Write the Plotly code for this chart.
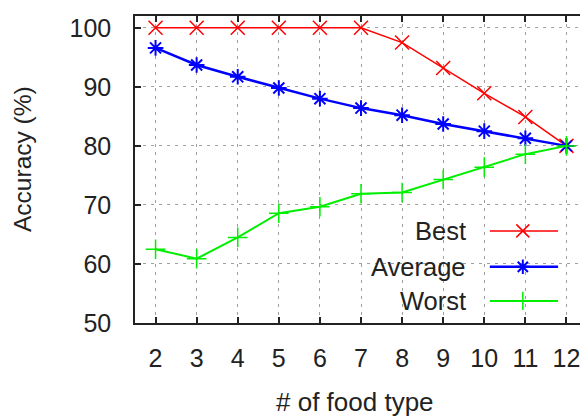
import plotly.graph_objects as go

food_types = [2, 3, 4, 5, 6, 7, 8, 9, 10, 11, 12]
best = [100, 100, 100, 100, 100, 100, 97.5, 93.2, 88.9, 84.9, 80]
average = [96.6, 93.7, 91.7, 89.8, 88.0, 86.4, 85.2, 83.7, 82.5, 81.3, 80]
worst = [62.5, 60.9, 64.5, 68.6, 69.7, 71.9, 72.1, 74.3, 76.4, 78.6, 80]
y_ticks = [50, 60, 70, 80, 90, 100]
series_names = ["Best", "Average", "Worst"]

FONT = "Liberation Sans, Arial, sans-serif"
TXT = "#222222"
styles = [
    dict(color="#ff0000", width=1.5, symbol="x-thin-open", size=14, mlw=1.5),
    dict(color="#0000ff", width=2.5, symbol="asterisk-open", size=13, mlw=2),
    dict(color="#00ee00", width=2, symbol="cross-thin-open", size=14, mlw=1.5),
]

fig = go.Figure()
for name, vals, st in zip(series_names, [best, average, worst], styles):
    fig.add_trace(go.Scatter(
        x=food_types, y=vals, mode="lines+markers", name=name,
        line=dict(color=st["color"], width=st["width"]),
        marker=dict(symbol=st["symbol"], size=st["size"], color=st["color"],
                    line=dict(color=st["color"], width=st["mlw"])),
        showlegend=False,
    ))

# custom legend (text then sample line) on an overlay axis in [0,1]
key_y = [0.30, 0.183, 0.072]
for name, st, ky in zip(series_names, styles, key_y):
    fig.add_trace(go.Scatter(
        x=[0.785, 0.936], y=[ky, ky], xaxis="x2", yaxis="y2",
        mode="lines", line=dict(color=st["color"], width=st["width"]),
        showlegend=False, hoverinfo="skip"))
    fig.add_trace(go.Scatter(
        x=[0.858], y=[ky], xaxis="x2", yaxis="y2", mode="markers",
        marker=dict(symbol=st["symbol"], size=st["size"] - 1, color=st["color"],
                    line=dict(color=st["color"], width=st["mlw"])),
        showlegend=False, hoverinfo="skip"))
    fig.add_annotation(x=0.737, y=ky, xref="x2", yref="y2", text=name,
                       showarrow=False, xanchor="right", yanchor="middle",
                       font=dict(family=FONT, size=25.5, color=TXT))

axis_common = dict(
    showline=True, linecolor=TXT, linewidth=1.5, mirror="allticks",
    ticks="inside", ticklen=6, tickcolor=TXT, tickwidth=1.5,
    showgrid=True, gridcolor="#a0a0a0", griddash="3px,5px", gridwidth=1.2,
    zeroline=False, automargin=False,
    tickfont=dict(family=FONT, size=25, color=TXT),
)

# the page body has an 8px margin, so the figure is sized to fill the rest
fig.update_layout(
    width=580, height=410,
    margin=dict(l=127, r=1, t=8, b=95),
    paper_bgcolor="white", plot_bgcolor="white",
    xaxis=dict(range=[1.5, 12.5], tickvals=food_types, ticklabelstandoff=12,
               **axis_common),
    yaxis=dict(range=[50, 102], tickvals=y_ticks, ticklabelstandoff=17,
               **axis_common),
    xaxis2=dict(overlaying="x", range=[0, 1], visible=False),
    yaxis2=dict(overlaying="y", range=[0, 1], visible=False),
)

fig.add_annotation(text="# of food type", xref="paper", yref="paper",
                   x=(355 - 135) / 452, y=(323 - 402) / 307,
                   xanchor="center", yanchor="middle", showarrow=False,
                   font=dict(family=FONT, size=26, color=TXT))
fig.add_annotation(text="Accuracy (%)", xref="paper", yref="paper",
                   x=(22 - 135) / 452, y=(323 - 159) / 307, textangle=-90,
                   xanchor="center", yanchor="middle", showarrow=False,
                   font=dict(family=FONT, size=24.5, color=TXT))

fig.write_html("out.html")
